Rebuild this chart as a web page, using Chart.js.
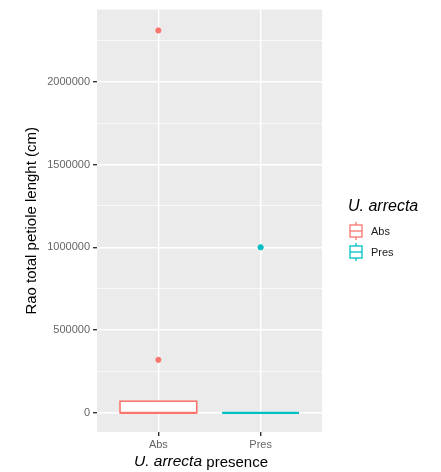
<!DOCTYPE html>
<html>
<head>
<meta charset="utf-8">
<script src="https://cdn.jsdelivr.net/npm/chart.js@4/dist/chart.umd.min.js"></script>
<style>
  html, body { margin: 0; padding: 0; background: #fff; }
  #wrap { width: 441px; height: 472px; position: relative; }
</style>
</head>
<body>
<div id="wrap"><canvas id="chart" width="441" height="472"></canvas></div>
<script>
// data
const categories = ['Abs', 'Pres'];
const colors = ['#F8766D', '#00BFC4'];
const whiskerLow = [0, 0];
const q1 = [0, 0];
const median = [0, 0];
const q3 = [70000, 0];
const whiskerHigh = [70000, 0];
const outliersAbs = [2310000, 320000];
const outliersPres = [1000000];
const yTicks = [0, 250000, 500000, 750000, 1000000, 1250000, 1500000, 1750000, 2000000, 2250000];

const FONT = '"Liberation Sans", Arial, Helvetica, sans-serif';

// grey panel behind the grid
const panelBg = {
  id: 'panelBg',
  beforeDraw(chart) {
    const { ctx, chartArea: a } = chart;
    ctx.save();
    ctx.fillStyle = '#EBEBEB';
    ctx.fillRect(a.left, a.top, a.right - a.left, a.bottom - a.top);
    ctx.restore();
  }
};

// boxes drawn from the quartile arrays through the chart scales
const boxes = {
  id: 'boxes',
  beforeDatasetsDraw(chart) {
    const { ctx, scales: { x, y } } = chart;
    ctx.save();
    categories.forEach((c, i) => {
      const cx = x.getPixelForValue(i + 1);
      const x0 = x.getPixelForValue(i + 1 - 0.375);
      const x1 = x.getPixelForValue(i + 1 + 0.375);
      ctx.strokeStyle = colors[i];
      ctx.lineWidth = 1.6;
      // whiskers
      ctx.beginPath();
      ctx.moveTo(cx, y.getPixelForValue(whiskerHigh[i]));
      ctx.lineTo(cx, y.getPixelForValue(q3[i]));
      ctx.moveTo(cx, y.getPixelForValue(q1[i]));
      ctx.lineTo(cx, y.getPixelForValue(whiskerLow[i]));
      ctx.stroke();
      const top = y.getPixelForValue(q3[i]);
      const bot = y.getPixelForValue(q1[i]);
      ctx.fillStyle = '#fff';
      ctx.fillRect(x0, top, x1 - x0, bot - top);
      ctx.strokeRect(x0, top, x1 - x0, bot - top);
      ctx.lineWidth = 2.2;
      ctx.beginPath();
      const m = y.getPixelForValue(median[i]);
      ctx.moveTo(x0, m);
      ctx.lineTo(x1, m);
      ctx.stroke();
    });
    ctx.restore();
  }
};

// x title with italic species name, plus the legend
const extras = {
  id: 'extras',
  afterDraw(chart) {
    const { ctx } = chart;
    ctx.save();
    // x title
    ctx.fillStyle = '#000';
    ctx.textBaseline = 'middle';
    const ital = 'italic 15.5px ' + FONT;
    const norm = '15px ' + FONT;
    ctx.font = ital;
    const w1 = ctx.measureText('U. arrecta ').width;
    ctx.font = norm;
    const w2 = ctx.measureText('presence').width;
    const sx = 201 - (w1 + w2) / 2;
    ctx.textAlign = 'left';
    ctx.font = ital;
    ctx.fillText('U. arrecta ', sx, 462);
    ctx.font = norm;
    ctx.fillText('presence', sx + w1, 463);

    // legend
    ctx.font = 'italic 16px ' + FONT;
    ctx.fillText('U. arrecta', 348, 207);
    categories.forEach((c, i) => {
      const ky = 231 + i * 21;
      const kx = 356;
      ctx.strokeStyle = colors[i];
      ctx.lineWidth = 1.3;
      ctx.beginPath();
      ctx.moveTo(kx, ky - 9);
      ctx.lineTo(kx, ky + 9);
      ctx.stroke();
      ctx.fillStyle = '#fff';
      ctx.fillRect(kx - 6, ky - 6, 12, 12);
      ctx.strokeRect(kx - 6, ky - 6, 12, 12);
      ctx.beginPath();
      ctx.moveTo(kx - 6, ky);
      ctx.lineTo(kx + 6, ky);
      ctx.stroke();
      ctx.fillStyle = '#1a1a1a';
      ctx.font = '11px ' + FONT;
      ctx.fillText(c, 371, ky + 1);
    });
    ctx.restore();
  }
};

const isMajor = v => v % 500000 === 0;

new Chart(document.getElementById('chart'), {
  type: 'scatter',
  data: {
    datasets: [
      {
        label: 'Abs',
        data: outliersAbs.map(v => ({ x: 1, y: v })),
        backgroundColor: colors[0],
        borderColor: colors[0],
        pointRadius: 2.6
      },
      {
        label: 'Pres',
        data: outliersPres.map(v => ({ x: 2, y: v })),
        backgroundColor: colors[1],
        borderColor: colors[1],
        pointRadius: 2.6
      }
    ]
  },
  options: {
    responsive: false,
    animation: false,
    layout: { padding: { top: 8, right: 119, left: 23, bottom: 0 } },
    plugins: { legend: { display: false }, tooltip: { enabled: false } },
    scales: {
      x: {
        type: 'linear',
        min: 0.4,
        max: 2.6,
        afterBuildTicks: s => { s.ticks = [{ value: 1 }, { value: 2 }]; },
        afterFit: s => { s.height = 40; },
        border: { display: false },
        grid: { color: '#fff', lineWidth: 1.4, tickLength: 4, tickColor: '#333' },
        ticks: {
          color: '#666',
          padding: 2,
          font: { family: FONT, size: 11 },
          callback: v => categories[v - 1]
        }
      },
      y: {
        min: -116000,
        max: 2436000,
        afterBuildTicks: s => { s.ticks = yTicks.map(v => ({ value: v })); },
        afterFit: s => { s.width = 74; },
        border: { display: false },
        grid: {
          color: '#fff',
          lineWidth: c => (c.tick && isMajor(c.tick.value)) ? 1.4 : 0.7,
          tickLength: 4,
          tickColor: c => (c.tick && isMajor(c.tick.value)) ? '#333' : 'rgba(0,0,0,0)'
        },
        ticks: {
          color: '#666',
          padding: 3,
          font: { family: FONT, size: 11 },
          callback: v => isMajor(v) ? String(v) : ''
        },
        title: {
          display: true,
          text: 'Rao total petiole lenght (cm)',
          color: '#000',
          padding: { top: 0, bottom: 6 },
          font: { family: FONT, size: 15 }
        }
      }
    }
  },
  plugins: [panelBg, boxes, extras]
});
</script>
</body>
</html>
